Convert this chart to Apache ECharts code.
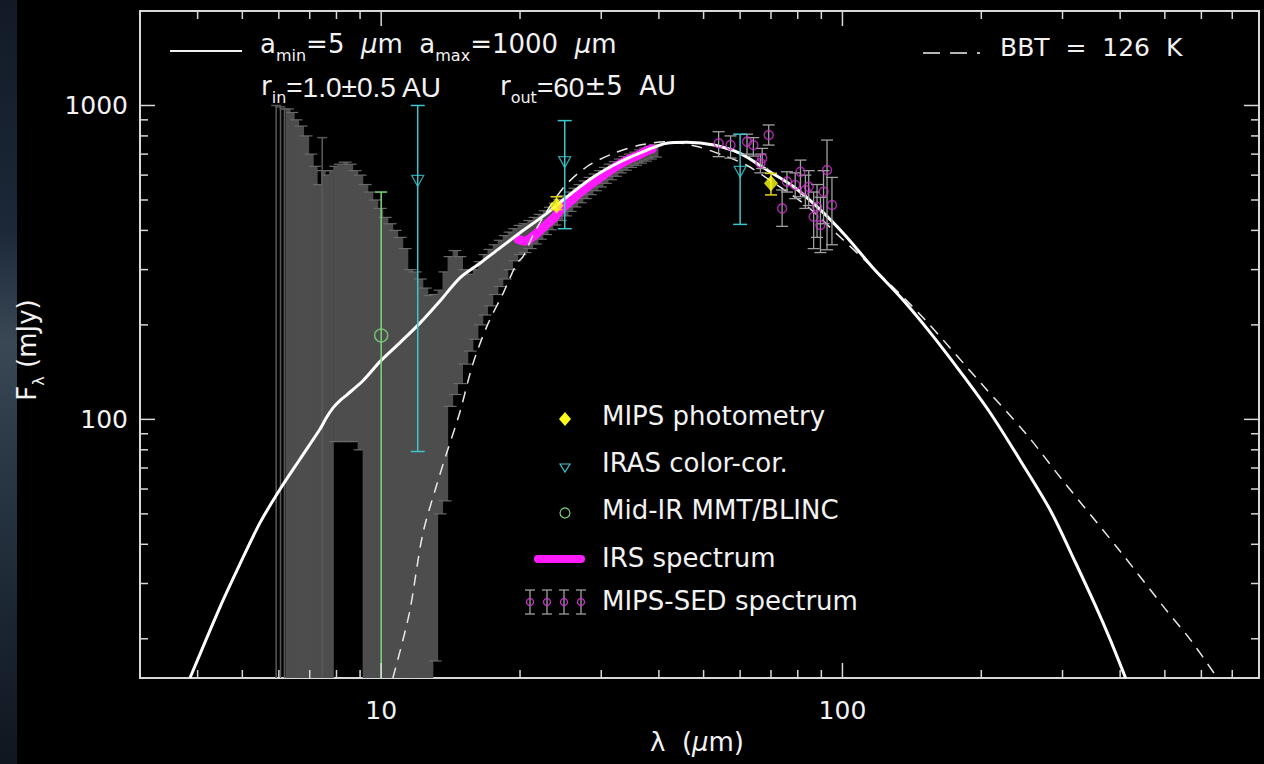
<!DOCTYPE html>
<html>
<head>
<meta charset="utf-8">
<script src="https://cdn.jsdelivr.net/npm/echarts@6/dist/echarts.min.js"></script>
<style>
  html, body { margin: 0; padding: 0; background: #000; }
  #chart { width: 1264px; height: 764px; }
</style>
</head>
<body>
<div id="chart"></div>
<script>
// model SED (solid), amin=5um amax=1000um
const modelLam = [3.85, 4.47, 4.94, 5.46, 6.04, 6.67, 7.37, 7.6, 7.87, 8.15, 8.44, 9.14, 9.95, 11.0, 12.15, 13.4, 14.8, 16.4, 18.1, 20.0, 22.9, 25.3, 28.9, 33.0, 37.7, 41.6, 46.0, 52.6, 60.0, 68.6, 78.4, 89.6, 102, 116, 134, 155, 180, 209, 243, 283, 320, 354, 381, 411];
const modelFlux = [15, 25.2, 34.6, 46.8, 60, 74.8, 93.2, 101, 109, 115, 120, 133, 153, 176, 203, 238, 282, 315, 352, 393, 454, 512, 593, 662, 721, 758, 763, 748, 704, 623, 551, 465, 382, 306, 244, 189, 142, 105, 74, 51, 35, 25.4, 19.8, 15];

// blackbody 126 K (dashed)
const bbLam = [10.6, 11.5, 12.3, 13.2, 13.9, 14.8, 15.8, 17.0, 18.4, 19.7, 20.3, 21.7, 24.8, 27.9, 31.9, 36.4, 41.6, 48.4, 55, 62, 70, 84, 100, 125, 150, 200, 250, 300, 400, 500, 569, 650];
const bbFlux = [15, 24, 43, 62, 79, 105, 150, 200, 253, 315, 330, 405, 546, 638, 704, 748, 767, 740, 695, 645, 575, 476, 375, 275, 210, 130, 90, 64, 38, 25, 19.8, 15];

// IRS spectrum error bars (grey band)
const irsLam = [6.28, 6.41, 6.54, 6.70, 6.87, 7.05, 7.19, 7.33, 7.48, 7.63, 7.79, 7.95, 8.15, 8.35, 8.56, 8.78, 9.0, 9.23, 9.47, 9.70, 9.95, 10.2, 10.46, 10.72, 10.99, 11.27, 11.56, 11.85, 12.15, 12.46, 12.77, 13.1, 13.4, 13.76, 14.1, 14.47, 14.8, 15.2, 15.6, 16.0, 16.4, 16.8, 17.2, 17.7, 18.1, 18.6, 19.0, 19.5, 20.0, 20.5, 21.0, 21.6, 22.1, 22.7, 23.3, 23.8, 24.4, 25.1, 25.7, 26.3, 27.0, 27.7, 28.4, 29.1, 29.9, 30.6, 31.4, 32.2, 33.0, 33.8, 34.7, 35.6, 36.5, 37.4, 38.3, 39.3];
const irsLo = [15, 15, 15, 15, 15, 15, 15, 15, 15, 15, 15, 85, 85, 85, 85, 85, 80, 15, 15, 15, 15, 15, 15, 15, 15, 15, 15, 15, 15, 15, 15, 17, 50, 55, 110, 120, 130, 150, 165, 180, 200, 215, 230, 250, 265, 280, 300, 320, 335, 340, 350, 362, 375, 388, 402, 416, 430, 445, 460, 475, 490, 505, 520, 535, 550, 565, 580, 595, 610, 622, 635, 645, 655, 665, 675, 685];
const irsHi = [975, 950, 900, 860, 800, 700, 640, 560, 620, 600, 620, 640, 650, 660, 650, 620, 600, 560, 530, 500, 470, 440, 420, 400, 380, 350, 300, 295, 280, 262, 248, 250, 258, 295, 330, 345, 330, 300, 290, 300, 318, 335, 348, 360, 372, 385, 395, 405, 415, 420, 430, 440, 450, 462, 474, 488, 502, 516, 530, 545, 560, 575, 590, 605, 620, 635, 650, 662, 675, 688, 700, 710, 722, 732, 742, 750];
const irsThinLam = [5.92, 6.05, 6.17, 7.45];
const irsThinLo = [15, 15, 15, 15];
const irsThinHi = [1000, 990, 975, 790];

// IRS spectrum (magenta)
const irsLineLam = [19.8, 20.5, 21.4, 22.1, 22.9, 23.8, 24.4, 25.7, 27.0, 28.4, 29.9, 31.4, 33.0, 34.5, 35.9, 37.7, 38.7];
const irsLineFlux = [375, 370, 384, 400, 420, 442, 462, 495, 528, 560, 590, 622, 652, 675, 692, 718, 728];

// MIPS-SED spectrum
const sedLam = [53.9, 57.2, 62.1, 64.1, 69.2, 67.0, 66.4, 75.8, 74.0, 79.0, 81.1, 84.5, 83.1, 92.6, 91.0, 88.1, 86.6, 89.6, 94.9];
const sedFlux = [758, 748, 767, 748, 805, 679, 656, 572, 470, 558, 615, 551, 538, 623, 531, 476, 442, 416, 482];
const sedLo = [687, 680, 700, 690, 748, 630, 610, 530, 412, 505, 512, 480, 470, 347, 420, 380, 350, 340, 360];
const sedHi = [825, 800, 810, 790, 867, 730, 700, 615, 538, 610, 670, 620, 600, 776, 620, 560, 530, 510, 590];

// MIPS photometry
const mipsLam = [24, 70];
const mipsFlux = [480, 565];
const mipsLo = [466, 519];
const mipsHi = [512, 608];

// IRAS color-corrected
const irasLam = [12, 25, 60];
const irasFlux = [575, 660, 615];
const irasLo = [79, 405, 418];
const irasHi = [1000, 895, 810];

// Mid-IR MMT/BLINC
const midLam = [10];
const midFlux = [185];
const midLo = [15];
const midHi = [530];

// axis ticks
const xTicks = [4, 5, 6, 7, 8, 9, 10, 20, 30, 40, 50, 60, 70, 80, 90, 100, 200, 300, 400, 500, 600, 700];
const xLabelVals = [10, 100];
const yTicks = [20, 30, 40, 50, 60, 70, 80, 90, 100, 200, 300, 400, 500, 600, 700, 800, 900, 1000];
const yLabelVals = [100, 1000];

const X_MIN = 3, X_MAX = 800, Y_MIN = 15, Y_MAX = 2000;
const FONT = 'DejaVu Sans';

const chart = echarts.init(document.getElementById('chart'), null, { renderer: 'svg' });

function errorBars(name, lam, lo, hi, color, cap, width, z) {
  return {
    type: 'custom', name: name, z: z, silent: true,
    data: lam.map((l, i) => [l, lo[i], hi[i]]),
    renderItem: function (params, api) {
      const cs = params.coordSys;
      const bottom = cs.y + cs.height;
      const pLo = api.coord([api.value(0), api.value(1)]);
      const pHi = api.coord([api.value(0), api.value(2)]);
      const x = pLo[0];
      const y1 = Math.min(pLo[1], bottom);
      const y2 = Math.max(pHi[1], cs.y);
      const st = { stroke: color, lineWidth: width };
      const kids = [{ type: 'line', shape: { x1: x, y1: y1, x2: x, y2: y2 }, style: st }];
      if (api.value(2) < Y_MAX) kids.push({ type: 'line', shape: { x1: x - cap, y1: y2, x2: x + cap, y2: y2 }, style: st });
      if (api.value(1) > Y_MIN + 0.01) kids.push({ type: 'line', shape: { x1: x - cap, y1: y1, x2: x + cap, y2: y1 }, style: st });
      return { type: 'group', children: kids };
    }
  };
}

const irsBand = {
  type: 'custom', name: 'IRS errors', z: 2, silent: true,
  data: irsLam.map((l, i) => [l, irsLo[i], irsHi[i]]),
  renderItem: function (params, api) {
    const i = params.dataIndex;
    const cs = params.coordSys;
    const bottom = cs.y + cs.height;
    const xc = api.coord([irsLam[i], 100])[0];
    const xl = i > 0 ? (api.coord([irsLam[i - 1], 100])[0] + xc) / 2 : xc - 2.5;
    const xr = i < irsLam.length - 1 ? (api.coord([irsLam[i + 1], 100])[0] + xc) / 2 : xc + 2.5;
    const yb = Math.min(api.coord([irsLam[i], irsLo[i]])[1], bottom);
    const yt = api.coord([irsLam[i], irsHi[i]])[1];
    const capSt = { stroke: '#6a6a6a', lineWidth: 1.2 };
    const kids = [
      { type: 'rect', shape: { x: xl, y: yt, width: xr - xl + 0.6, height: yb - yt }, style: { fill: '#4d4d4d' } },
      { type: 'line', shape: { x1: xl - 4, y1: yt, x2: xr + 4, y2: yt }, style: capSt }
    ];
    if (irsLo[i] > Y_MIN + 0.01) kids.push({ type: 'line', shape: { x1: xl - 4, y1: yb, x2: xr + 4, y2: yb }, style: capSt });
    return { type: 'group', children: kids };
  }
};

function tickSeries(vals, labels, dir) {
  return {
    type: 'custom', z: 30, silent: true,
    data: vals.map(v => dir === 'x' ? [v, Y_MIN] : [X_MIN, v]),
    renderItem: function (params, api) {
      const cs = params.coordSys;
      const v = dir === 'x' ? api.value(0) : api.value(1);
      const p = api.coord([api.value(0), api.value(1)]);
      const len = labels.indexOf(v) >= 0 ? 15 : 8;
      const st = { stroke: '#d8d8d8', lineWidth: 1.5 };
      if (dir === 'x') {
        const b = cs.y + cs.height;
        return { type: 'group', children: [
          { type: 'line', shape: { x1: p[0], y1: b, x2: p[0], y2: b - len }, style: st },
          { type: 'line', shape: { x1: p[0], y1: cs.y, x2: p[0], y2: cs.y + len }, style: st }
        ] };
      }
      const r = cs.x + cs.width;
      return { type: 'group', children: [
        { type: 'line', shape: { x1: cs.x, y1: p[1], x2: cs.x + len, y2: p[1] }, style: st },
        { type: 'line', shape: { x1: r, y1: p[1], x2: r - len, y2: p[1] }, style: st }
      ] };
    }
  };
}

function isLabel(v, list) {
  return list.some(t => Math.abs(v - t) / t < 1e-6);
}

const txt = { fill: '#f2f2f2', fontFamily: FONT };
const rich = {
  n: { fontSize: 26, fontFamily: FONT, fill: '#f2f2f2', verticalAlign: 'top', lineHeight: 32 },
  i: { fontSize: 26, fontFamily: FONT, fontStyle: 'italic', fill: '#f2f2f2', verticalAlign: 'top', lineHeight: 32 },
  c: { fontSize: 28, fontFamily: 'Liberation Sans', fill: '#f2f2f2', verticalAlign: 'top', lineHeight: 32 },
  s: { fontSize: 16, fontFamily: FONT, fill: '#f2f2f2', verticalAlign: 'bottom', lineHeight: 32 }
};

const legendRows = ['MIPS photometry', 'IRAS color-cor.', 'Mid-IR MMT/BLINC', 'IRS spectrum', 'MIPS-SED spectrum'];
const legendY = [416, 463, 510, 558, 601];

const graphics = [
  // blurred photo strip at the far left
  { type: 'rect', shape: { x: 0, y: 0, width: 17, height: 764 }, silent: true,
    style: { fill: new echarts.graphic.LinearGradient(0, 0, 0, 1, [
      { offset: 0, color: '#121a26' }, { offset: 0.3, color: '#1c2838' },
      { offset: 0.45, color: '#3a4856' }, { offset: 0.6, color: '#2a3845' },
      { offset: 0.85, color: '#18222e' }, { offset: 1, color: '#10161e' }]) } },
  // top annotations
  { type: 'line', shape: { x1: 170, y1: 51, x2: 242, y2: 51 }, style: { stroke: '#f2f2f2', lineWidth: 2 } },
  { type: 'text', x: 260, y: 31, style: { text: '{n|a}{s|min}{n|=5  }{i|μ}{n|m  a}{s|max}{n|=1000  }{i|μ}{n|m}', rich: rich } },
  { type: 'text', x: 261, y: 73, style: { text: '{n|r}{s|in}{c|=1.0±0.5 AU}', rich: rich } },
  { type: 'text', x: 500, y: 73, style: { text: '{n|r}{s|out}{c|=60}{n|±5  AU}', rich: rich } },
  { type: 'line', shape: { x1: 923, y1: 53, x2: 940, y2: 53 }, style: { stroke: '#f2f2f2', lineWidth: 1.5 } },
  { type: 'line', shape: { x1: 950, y1: 53, x2: 967, y2: 53 }, style: { stroke: '#f2f2f2', lineWidth: 1.5 } },
  { type: 'line', shape: { x1: 977, y1: 53, x2: 980, y2: 53 }, style: { stroke: '#f2f2f2', lineWidth: 1.5 } },
  { type: 'text', x: 1000, y: 47, style: Object.assign({ text: 'BBT  =  126  K', fontSize: 25, verticalAlign: 'middle' }, txt) },
  // axis titles
  { type: 'text', x: 697, y: 745, style: { text: '{n|λ  (}{i|μ}{n|m)}', rich: rich, align: 'center', verticalAlign: 'middle' } },
  { type: 'text', x: 30, y: 350, rotation: Math.PI / 2,
    style: { text: '{n|F}{s|λ}{n| (mJy)}', rich: rich, align: 'center', verticalAlign: 'middle' } },
  // legend symbols
  { type: 'polygon', shape: { points: [[565, 412], [571, 419], [565, 426], [559, 419]] }, style: { fill: '#ffff1a' } },
  { type: 'polygon', shape: { points: [[560, 464], [570, 464], [565, 472]] }, style: { fill: 'none', stroke: '#40c4cc', lineWidth: 1.2 } },
  { type: 'circle', shape: { cx: 565, cy: 513, r: 5 }, style: { fill: 'none', stroke: '#7ad67a', lineWidth: 1.2 } },
  { type: 'line', shape: { x1: 538, y1: 559, x2: 581, y2: 559 }, style: { stroke: '#ff1aff', lineWidth: 8, lineCap: 'round' } }
];
[530, 547, 564, 581].forEach(function (x) {
  const st = { stroke: '#a0a0a0', lineWidth: 1.3 };
  graphics.push({ type: 'line', shape: { x1: x, y1: 590, x2: x, y2: 614 }, style: st });
  graphics.push({ type: 'line', shape: { x1: x - 5, y1: 590, x2: x + 5, y2: 590 }, style: st });
  graphics.push({ type: 'line', shape: { x1: x - 5, y1: 614, x2: x + 5, y2: 614 }, style: st });
  graphics.push({ type: 'circle', shape: { cx: x, cy: 602, r: 3.5 }, style: { fill: 'none', stroke: '#cc33cc', lineWidth: 1.3 } });
});
legendRows.forEach(function (t, i) {
  graphics.push({ type: 'text', x: 602, y: legendY[i], style: Object.assign({ text: t, fontSize: 26, verticalAlign: 'middle' }, txt) });
});

const option = {
  backgroundColor: '#000',
  animation: false,
  grid: { left: 140, right: 5, top: 11, bottom: 86, show: true, borderColor: '#d8d8d8', borderWidth: 2 },
  xAxis: {
    type: 'log', logBase: 10, min: X_MIN, max: X_MAX,
    axisLine: { show: false }, axisTick: { show: false }, splitLine: { show: false },
    axisLabel: {
      color: '#f2f2f2', fontFamily: FONT, fontSize: 25, margin: 20,
      showMinLabel: false, showMaxLabel: false,
      formatter: v => isLabel(v, xLabelVals) ? String(Math.round(v)) : ''
    }
  },
  yAxis: {
    type: 'log', logBase: 10, min: Y_MIN, max: Y_MAX,
    axisLine: { show: false }, axisTick: { show: false }, splitLine: { show: false },
    axisLabel: {
      color: '#f2f2f2', fontFamily: FONT, fontSize: 25, margin: 12,
      showMinLabel: false, showMaxLabel: false,
      formatter: v => isLabel(v, yLabelVals) ? String(Math.round(v)) : ''
    }
  },
  graphic: graphics,
  series: [
    irsBand,
    errorBars('IRS thin', irsThinLam, irsThinLo, irsThinHi, '#5a5a5a', 5, 1.5, 3),
    {
      type: 'line', name: 'IRS spectrum', z: 5, showSymbol: false, smooth: 0.3,
      data: irsLineLam.map((l, i) => [l, irsLineFlux[i]]),
      lineStyle: { color: '#ff1aff', width: 9, cap: 'round' }
    },
    {
      type: 'line', name: 'BBT 126 K', z: 6, showSymbol: false, smooth: 0.3,
      data: bbLam.map((l, i) => [l, bbFlux[i]]),
      lineStyle: { color: '#e8e8e8', width: 1.5, type: [11, 8] }
    },
    {
      type: 'line', name: 'model', z: 7, showSymbol: false, smooth: 0.3,
      data: modelLam.map((l, i) => [l, modelFlux[i]]),
      lineStyle: { color: '#ffffff', width: 3 }
    },
    errorBars('MIPS-SED errors', sedLam, sedLo, sedHi, '#a0a0a0', 6, 1.3, 9),
    {
      type: 'scatter', name: 'MIPS-SED spectrum', z: 10, symbol: 'circle', symbolSize: 9,
      data: sedLam.map((l, i) => [l, sedFlux[i]]),
      itemStyle: { color: 'rgba(0,0,0,0)', borderColor: '#cc33cc', borderWidth: 1.5 }
    },
    errorBars('Mid-IR errors', midLam, midLo, midHi, '#7ad67a', 6, 1.5, 11),
    {
      type: 'scatter', name: 'Mid-IR MMT/BLINC', z: 12, symbol: 'circle', symbolSize: 13,
      data: midLam.map((l, i) => [l, midFlux[i]]),
      itemStyle: { color: 'rgba(0,0,0,0)', borderColor: '#7ad67a', borderWidth: 1.5 }
    },
    errorBars('IRAS errors', irasLam, irasLo, irasHi, '#40c4cc', 7, 1.5, 13),
    {
      type: 'scatter', name: 'IRAS color-cor.', z: 14, symbol: 'triangle', symbolRotate: 180, symbolSize: [12, 11],
      data: irasLam.map((l, i) => [l, irasFlux[i]]),
      itemStyle: { color: 'rgba(0,0,0,0)', borderColor: '#40c4cc', borderWidth: 1.3 }
    },
    errorBars('MIPS errors', mipsLam, mipsLo, mipsHi, '#e6d21a', 6, 1.5, 15),
    {
      type: 'scatter', name: 'MIPS photometry', z: 16, symbol: 'diamond', symbolSize: [14, 16],
      data: mipsLam.map((l, i) => [l, mipsFlux[i]]),
      itemStyle: { color: '#ffff1a' }
    },
    tickSeries(xTicks, xLabelVals, 'x'),
    tickSeries(yTicks, yLabelVals, 'y')
  ]
};

chart.setOption(option);
</script>
</body>
</html>
